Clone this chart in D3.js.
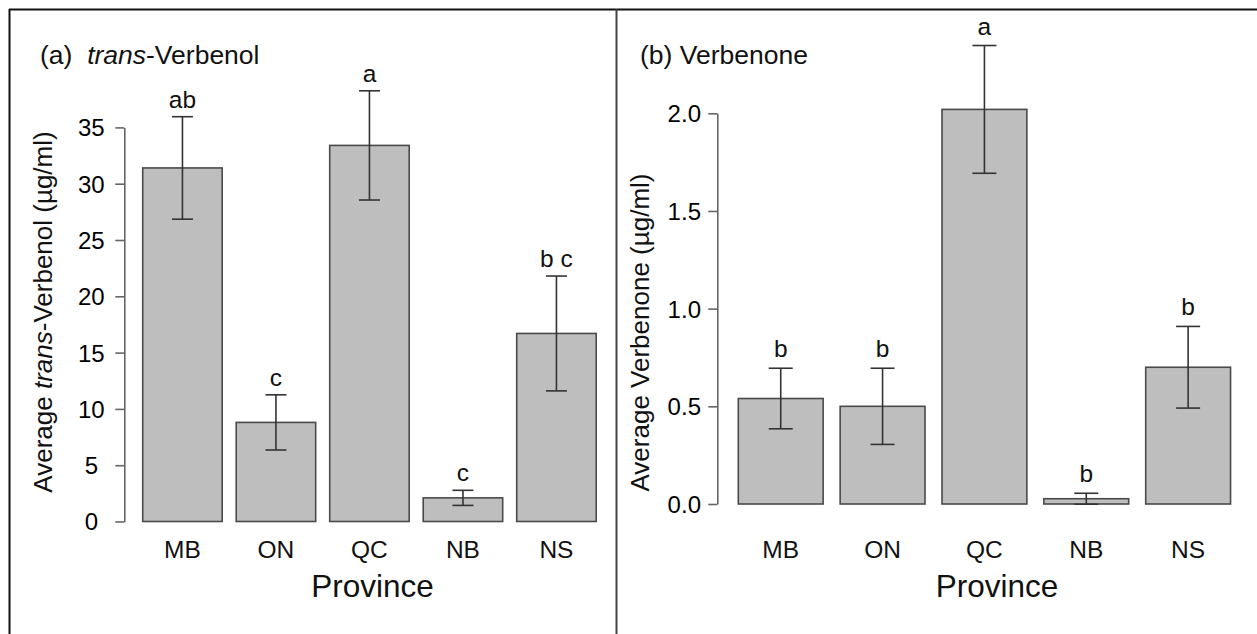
<!DOCTYPE html>
<html>
<head>
<meta charset="utf-8">
<script src="https://cdn.jsdelivr.net/npm/d3@7"></script>
<style>
  html, body { margin: 0; padding: 0; background: #fff; }
  svg { display: block; font-family: "Liberation Sans", Arial, sans-serif; }
</style>
</head>
<body>
<svg id="fig" width="1257" height="634"></svg>
<script>
// Provinces on the x axis of both panels
const provinces = ["MB", "ON", "QC", "NB", "NS"];

// (a) trans-Verbenol, µg/ml: mean and standard error
const verbenolMean = [31.4, 8.8, 33.4, 2.1, 16.7];
const verbenolSE = [4.55, 2.45, 4.85, 0.67, 5.1];
const verbenolLetters = ["ab", "c", "a", "c", "b c"];
const verbenolTicks = [0, 5, 10, 15, 20, 25, 30, 35];

// (b) Verbenone, µg/ml: mean and standard error
const verbenoneMean = [0.54, 0.50, 2.02, 0.027, 0.70];
const verbenoneSE = [0.155, 0.195, 0.327, 0.028, 0.209];
const verbenoneLetters = ["b", "b", "a", "b", "b"];
const verbenoneTicks = [0, 0.5, 1.0, 1.5, 2.0];

const svg = d3.select("#fig");

// Figure frame and panel divider
svg.append("line").attr("x1", 9).attr("x2", 1257).attr("y1", 9.5).attr("y2", 9.5)
  .attr("stroke", "#111").attr("stroke-width", 2);
svg.append("line").attr("x1", 9.5).attr("x2", 9.5).attr("y1", 9).attr("y2", 634)
  .attr("stroke", "#111").attr("stroke-width", 2);
svg.append("line").attr("x1", 616.5).attr("x2", 616.5).attr("y1", 9).attr("y2", 634)
  .attr("stroke", "#444").attr("stroke-width", 2);

function drawPanel(cfg) {
  const g = svg.append("g");

  const x = d3.scaleBand()
    .domain(provinces)
    .range(cfg.xRange)
    .paddingInner(cfg.padInner)
    .paddingOuter(cfg.padInner / 2);

  const y = d3.scaleLinear().domain(cfg.yDomain).range(cfg.yRange);

  // y axis
  const axis = d3.axisLeft(y)
    .tickValues(cfg.ticks)
    .tickSize(9)
    .tickSizeOuter(0)
    .tickFormat(cfg.fmt);
  const ax = g.append("g")
    .attr("transform", `translate(${cfg.axisX},0)`)
    .call(axis);
  ax.select(".domain").attr("stroke", "#666").attr("stroke-width", 1.6);
  ax.selectAll(".tick line").attr("stroke", "#666").attr("stroke-width", 1.6);
  ax.selectAll(".tick text")
    .attr("x", -33)
    .attr("dy", "0.35em")
    .attr("text-anchor", "middle")
    .attr("fill", "#000")
    .style("font-size", "24px")
    .style("font-family", "'Liberation Sans', Arial, sans-serif");

  const data = provinces.map((p, i) => ({
    p, m: cfg.mean[i], se: cfg.se[i], lab: cfg.letters[i]
  }));

  // bars
  g.selectAll("rect.bar").data(data).enter().append("rect")
    .attr("class", "bar")
    .attr("x", d => x(d.p))
    .attr("width", x.bandwidth())
    .attr("y", d => y(d.m))
    .attr("height", d => y(0) - y(d.m))
    .attr("fill", "#bebebe")
    .attr("stroke", "#4a4a4a")
    .attr("stroke-width", 1.6);

  // error bars
  const cx = d => x(d.p) + x.bandwidth() / 2;
  const eb = g.selectAll("g.err").data(data).enter().append("g").attr("class", "err")
    .attr("stroke", "#333").attr("stroke-width", 1.6);
  eb.append("line")
    .attr("x1", cx).attr("x2", cx)
    .attr("y1", d => y(d.m + d.se)).attr("y2", d => y(d.m - d.se));
  eb.append("line")
    .attr("x1", d => cx(d) - cfg.cap).attr("x2", d => cx(d) + cfg.cap)
    .attr("y1", d => y(d.m + d.se)).attr("y2", d => y(d.m + d.se));
  eb.append("line")
    .attr("x1", d => cx(d) - cfg.cap).attr("x2", d => cx(d) + cfg.cap)
    .attr("y1", d => y(d.m - d.se)).attr("y2", d => y(d.m - d.se));

  // significance letters
  g.selectAll("text.letter").data(data).enter().append("text")
    .attr("class", "letter")
    .attr("x", cx)
    .attr("y", d => y(d.m + d.se) - cfg.letterGap)
    .attr("text-anchor", "middle")
    .attr("font-size", 24.5)
    .attr("fill", "#111")
    .text(d => d.lab);

  // category labels
  g.selectAll("text.cat").data(data).enter().append("text")
    .attr("class", "cat")
    .attr("x", cx)
    .attr("y", 557.5)
    .attr("text-anchor", "middle")
    .attr("font-size", 24.5)
    .attr("fill", "#111")
    .text(d => d.p);

  // x axis title
  g.append("text")
    .attr("x", cfg.xTitleX).attr("y", 596.5)
    .attr("text-anchor", "middle")
    .attr("font-size", 31.5)
    .attr("fill", "#111")
    .text("Province");

  // y axis title
  const yt = g.append("text")
    .attr("transform", `translate(${cfg.yTitle[0]},${cfg.yTitle[1]}) rotate(-90)`)
    .attr("text-anchor", "middle")
    .attr("font-size", 26)
    .attr("fill", "#111");
  cfg.yTitleParts.forEach(([t, it]) => {
    yt.append("tspan").attr("font-style", it ? "italic" : "normal").text(t);
  });

  // panel title
  const pt = g.append("text")
    .attr("x", cfg.titleX).attr("y", 64)
    .attr("font-size", 26.5)
    .attr("fill", "#111")
    .attr("xml:space", "preserve");
  cfg.titleParts.forEach(([t, it]) => {
    pt.append("tspan").attr("font-style", it ? "italic" : "normal").text(t);
  });
}

drawPanel({
  mean: verbenolMean, se: verbenolSE, letters: verbenolLetters, ticks: verbenolTicks,
  fmt: d3.format("d"),
  xRange: [135.7, 603.2], padInner: 0.15,
  yDomain: [0, 35], yRange: [521.5, 127.4],
  axisX: 124.3, cap: 10.5, letterGap: 9,
  xTitleX: 372.5, yTitle: [51.5, 312],
  yTitleParts: [["Average ", false], ["trans", true], ["-Verbenol (µg/ml)", false]],
  titleX: 40,
  titleParts: [["(a)  ", false], ["trans", true], ["-Verbenol", false]]
});

drawPanel({
  mean: verbenoneMean, se: verbenoneSE, letters: verbenoneLetters, ticks: verbenoneTicks,
  fmt: d3.format(".1f"),
  xRange: [729.8, 1239.05], padInner: 0.167,
  yDomain: [0, 2], yRange: [504, 113.3],
  axisX: 717.3, cap: 12, letterGap: 11,
  xTitleX: 997, yTitle: [648.5, 332.5],
  yTitleParts: [["Average Verbenone (µg/ml)", false]],
  titleX: 640,
  titleParts: [["(b) Verbenone", false]]
});
</script>
</body>
</html>
